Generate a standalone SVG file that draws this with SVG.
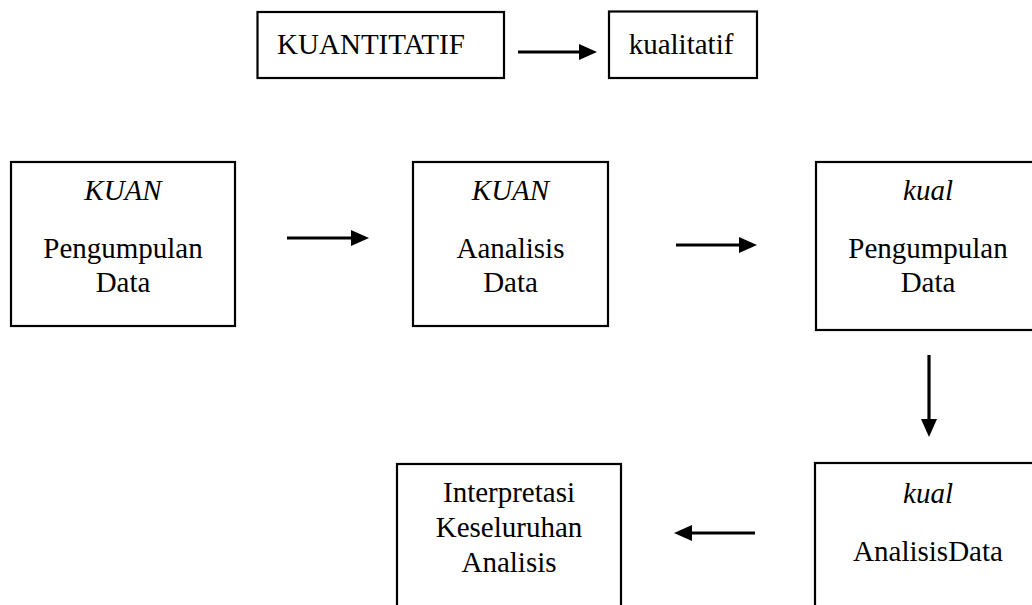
<svg xmlns="http://www.w3.org/2000/svg" width="1032" height="605" viewBox="0 0 1032 605">
<style>
.box{fill:#fff;stroke:#000;stroke-width:2.2}
.t{font-size:29px;fill:#000;text-anchor:middle}
.i{font-style:italic}
.c{stroke:#000;stroke-width:3.2;fill:none;marker-end:url(#ah)}
</style>
<defs>
<marker id="ah" markerUnits="userSpaceOnUse" markerWidth="19" markerHeight="19" viewBox="0 0 19 19" refX="8" refY="9.5" orient="auto">
<path d="M0,1.5 L18,9.5 L0,17.5 z" fill="#000"/>
</marker>
</defs>
<rect width="1032" height="605" fill="#fff"/>
<g font-family="Liberation Serif, DejaVu Serif, serif">
<g id="n_kuantitatif">
<rect class="box" x="257.5" y="12" width="246.5" height="66"/>
<text class="t" x="371" y="54" font-size="28">KUANTITATIF</text>
</g>
<g id="n_kualitatif">
<rect class="box" x="609" y="11.5" width="148" height="66.5"/>
<text class="t" x="681" y="54" font-size="28">kualitatif</text>
</g>
<g id="n_kuan_pengumpulan">
<rect class="box" x="11" y="162" width="224" height="164"/>
<text class="t i" x="123" y="200">KUAN</text>
<text class="t" x="123" y="258">Pengumpulan</text>
<text class="t" x="123" y="292">Data</text>
</g>
<g id="n_kuan_analisis">
<rect class="box" x="413" y="162" width="195" height="164"/>
<text class="t i" x="510.5" y="200">KUAN</text>
<text class="t" x="510.5" y="258">Aanalisis</text>
<text class="t" x="510.5" y="292">Data</text>
</g>
<g id="n_kual_pengumpulan">
<rect class="box" x="816" y="162" width="230" height="168"/>
<text class="t i" x="928" y="200">kual</text>
<text class="t" x="928" y="258">Pengumpulan</text>
<text class="t" x="928" y="292">Data</text>
</g>
<g id="n_kual_analisis">
<rect class="box" x="815" y="463" width="230" height="160"/>
<text class="t i" x="928" y="503">kual</text>
<text class="t" x="928" y="561">AnalisisData</text>
</g>
<g id="n_interpretasi">
<rect class="box" x="397" y="464" width="224" height="160"/>
<text class="t" x="509" y="502">Interpretasi</text>
<text class="t" x="509" y="537">Keseluruhan</text>
<text class="t" x="509" y="572">Analisis</text>
</g>
</g>
<g id="connectors">
<line class="c" x1="518" y1="52" x2="587" y2="52"/>
<line class="c" x1="287" y1="238" x2="359" y2="238"/>
<line class="c" x1="676" y1="245" x2="747" y2="245"/>
<line class="c" x1="929" y1="355" x2="929" y2="427"/>
<line class="c" x1="755" y1="533" x2="684" y2="533"/>
</g>
</svg>
